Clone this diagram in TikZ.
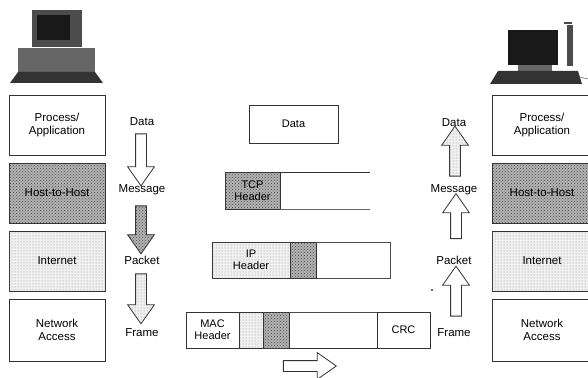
\documentclass[tikz,border=0pt]{standalone}
\usepackage{fontspec}
\setmainfont{Liberation Sans}
\usetikzlibrary{shapes.arrows,patterns,positioning}

\begin{document}
\begin{tikzpicture}[x=1pt,y=-1pt,
	font=\fontsize{11.5}{13.5}\selectfont,
	layer node/.style={draw=black!80,line width=0.8pt,minimum width=96pt,
		minimum height=60pt,inner sep=0pt,outer sep=0pt,align=center},
	dense/.style={fill=black!30,postaction={pattern=crosshatch dots,pattern color=black!70}},
	light/.style={fill=black!6,postaction={pattern=dots,pattern color=black!45}},
	part node/.style={draw=black!80,line width=0.8pt,minimum height=36pt,
		inner sep=0pt,outer sep=0pt,align=center,font=\fontsize{11}{12}\selectfont},
	flow arrow/.style={single arrow,draw=black!80,line width=0.8pt,fill=white,
		minimum width=26pt,single arrow head extend=8pt,single arrow tip angle=70,
		inner sep=5pt,outer sep=0pt}]

	\useasboundingbox (0,0) rectangle (588,377);
	\clip (0,0) rectangle (588,377);

	% left computer
	\fill[black!70] (32,10) rectangle (82,47);
	\fill[black!90] (37,15) rectangle (70,40);
	\fill[black!60] (18,48) rectangle (95,72);
	\fill[black!80] (18,72) -- (95,72) -- (103,83) -- (10,83) -- cycle;

	% right computer
	\fill[black!90] (508,30) rectangle (558,65);
	\fill[black!70] (567,25) rectangle (573,66);
	\fill[black!70] (564,22) rectangle (572,24);
	\fill[black!60] (518,65) rectangle (552,71);
	\fill[black!80] (498,71) -- (578,71) -- (582,84) -- (490,84) -- cycle;
	\draw[black!70] (580,77) -- (588,79);

	% left stack
	\node[layer node] (proc) at (57,125) {Process/\\Application};
	\node[layer node,dense] (host) [below=8pt of proc] {Host-to-Host};
	\node[layer node,light] (inet) [below=8pt of host] {Internet};
	\node[layer node,minimum height=62pt] (netacc) [below=8pt of inet] {Network\\Access};

	% right stack
	\node[layer node,minimum width=100pt] (rproc) at (542,125) {Process/\\Application};
	\node[layer node,minimum width=100pt,dense] (rhost) [below=8pt of rproc] {Host-to-Host};
	\node[layer node,minimum width=100pt,light] (rinet) [below=8pt of rhost] {Internet};
	\node[layer node,minimum width=100pt,minimum height=62pt] (rnetacc) [below=8pt of rinet] {Network\\Access};

	% left column
	\node (ldata) at (142,122) {Data};
	\node[flow arrow,shape border rotate=270,minimum height=52pt] (ldown1) at (141,156) {};
	\node (lmsg) at (142,190) {Message};
	\node[flow arrow,dense,shape border rotate=270,minimum height=48pt] (ldown2) at (141,226) {};
	\node (lpkt) at (142,260) {Packet};
	\node[flow arrow,light,shape border rotate=270,minimum height=50pt] (ldown3) at (141,295) {};
	\node (lframe) at (142,333) {Frame};

	% right column
	\node (rdata) at (454,123) {Data};
	\node[flow arrow,light,shape border rotate=90,minimum height=50pt] (rup1) at (455,155) {};
	\node (rmsg) at (454,190) {Message};
	\node[flow arrow,shape border rotate=90,minimum height=45pt] (rup2) at (456,220) {};
	\node (rpkt) at (454,260) {Packet};
	\node[flow arrow,shape border rotate=90,minimum height=50pt] (rup3) at (456,295) {};
	\node (rframe) at (454,333) {Frame};
	\fill[black!80] (432,290) circle (1.2pt);

	% packets
	\node[part node,minimum width=89pt,minimum height=38pt] (data) at (293.5,124) {Data};

	\node[part node,dense,minimum width=55pt,minimum height=37pt] (tcph) at (252.5,190.5) {TCP\\Header};
	\draw[black!80,line width=0.8pt] (tcph.north east) -- ++(90,0);
	\draw[black!60,line width=0.8pt] (tcph.south east) -- ++(90,0);

	\node[part node,light,minimum width=78pt] (iph) at (251,260) {IP\\Header};
	\node[part node,dense,minimum width=26pt] (iptcp) [right=0pt of iph] {};
	\draw[black!70,line width=0.8pt] (iptcp.north east) -- ++(74,0) -- ++(0,36) -- (iptcp.south east);

	\node[part node,minimum width=53pt] (mac) at (212.5,330) {MAC\\Header};
	\node[part node,light,minimum width=24pt] (macip) [right=0pt of mac] {};
	\node[part node,dense,minimum width=26pt] (mactcp) [right=0pt of macip] {};
	\node[part node,minimum width=53pt] (crc) at (403.5,330) {CRC};
	\draw[black!70,line width=0.8pt] (mactcp.north east) -- (crc.north west);
	\draw[black!80,line width=0.8pt] (mactcp.south east) -- (crc.south west);

	\node[flow arrow,minimum height=53pt] (send) at (306,366) {};
\end{tikzpicture}
\end{document}
